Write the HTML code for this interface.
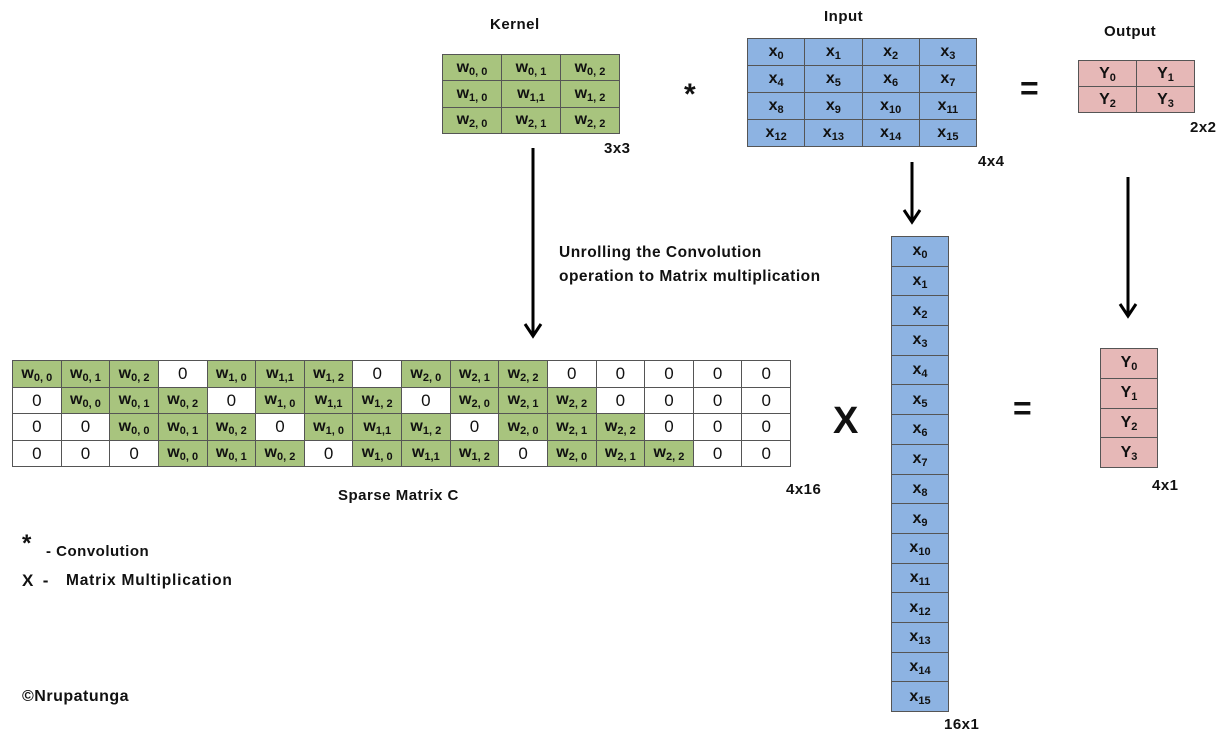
<!DOCTYPE html>
<html><head><meta charset="utf-8"><style>
body{margin:0;width:1232px;height:755px;background:#fff;position:relative;overflow:hidden;font-family:"Liberation Sans",sans-serif;font-weight:bold;color:#111}
.a{position:absolute;white-space:nowrap}
table{position:absolute;border-collapse:collapse;table-layout:fixed}
td{border:1.3px solid #555;text-align:center;padding:0;font-size:16px;line-height:1}
td sub{font-size:11px;vertical-align:-3px;line-height:0}
.g{background:#a8c47e}.b{background:#8db3e2}.p{background:#e6b8b7}.w{background:#fff;font-weight:normal;font-size:17px}
.lbl{font-size:15px;letter-spacing:0.5px}
</style></head><body>
<div class="a lbl" style="left:490px;top:16px">Kernel</div>
<table style="left:442px;top:54px;width:178px;height:80px">
<tr><td class="g">w<sub>0, 0</sub></td><td class="g">w<sub>0, 1</sub></td><td class="g">w<sub>0, 2</sub></td></tr>
<tr><td class="g">w<sub>1, 0</sub></td><td class="g">w<sub>1,1</sub></td><td class="g">w<sub>1, 2</sub></td></tr>
<tr><td class="g">w<sub>2, 0</sub></td><td class="g">w<sub>2, 1</sub></td><td class="g">w<sub>2, 2</sub></td></tr>
</table>
<div class="a lbl" style="left:604px;top:140px">3x3</div>
<div class="a" style="left:684px;top:78px;font-size:30px">*</div>
<div class="a lbl" style="left:824px;top:8px">Input</div>
<table style="left:747px;top:38px;width:230px;height:109px">
<tr><td class="b">x<sub>0</sub></td><td class="b">x<sub>1</sub></td><td class="b">x<sub>2</sub></td><td class="b">x<sub>3</sub></td></tr>
<tr><td class="b">x<sub>4</sub></td><td class="b">x<sub>5</sub></td><td class="b">x<sub>6</sub></td><td class="b">x<sub>7</sub></td></tr>
<tr><td class="b">x<sub>8</sub></td><td class="b">x<sub>9</sub></td><td class="b">x<sub>10</sub></td><td class="b">x<sub>11</sub></td></tr>
<tr><td class="b">x<sub>12</sub></td><td class="b">x<sub>13</sub></td><td class="b">x<sub>14</sub></td><td class="b">x<sub>15</sub></td></tr>
</table>
<div class="a lbl" style="left:978px;top:153px">4x4</div>
<div class="a" style="left:1020px;top:70px;font-size:32px">=</div>
<div class="a lbl" style="left:1104px;top:23px">Output</div>
<table style="left:1078px;top:60px;width:117px;height:53px">
<tr><td class="p">Y<sub>0</sub></td><td class="p">Y<sub>1</sub></td></tr>
<tr><td class="p">Y<sub>2</sub></td><td class="p">Y<sub>3</sub></td></tr>
</table>
<div class="a lbl" style="left:1190px;top:119px">2x2</div>

<svg class="a" style="left:0;top:0" width="1232" height="755">
<g stroke="#000" stroke-width="3" fill="none">
<line x1="533" y1="148" x2="533" y2="336"/><polyline points="525,324 533,336 541,324"/>
<line x1="912" y1="162" x2="912" y2="222"/><polyline points="904,210 912,222 920,210"/>
<line x1="1128" y1="177" x2="1128" y2="316"/><polyline points="1120,304 1128,316 1136,304"/>
</g></svg>
<div class="a lbl" style="left:559px;top:241px;line-height:24px;font-size:15.5px">Unrolling the Convolution<br>operation to Matrix multiplication</div>

<table style="left:12px;top:360px;width:779px;height:107px">
<tr><td class="g">w<sub>0, 0</sub></td><td class="g">w<sub>0, 1</sub></td><td class="g">w<sub>0, 2</sub></td><td class="w">0</td><td class="g">w<sub>1, 0</sub></td><td class="g">w<sub>1,1</sub></td><td class="g">w<sub>1, 2</sub></td><td class="w">0</td><td class="g">w<sub>2, 0</sub></td><td class="g">w<sub>2, 1</sub></td><td class="g">w<sub>2, 2</sub></td><td class="w">0</td><td class="w">0</td><td class="w">0</td><td class="w">0</td><td class="w">0</td></tr>
<tr><td class="w">0</td><td class="g">w<sub>0, 0</sub></td><td class="g">w<sub>0, 1</sub></td><td class="g">w<sub>0, 2</sub></td><td class="w">0</td><td class="g">w<sub>1, 0</sub></td><td class="g">w<sub>1,1</sub></td><td class="g">w<sub>1, 2</sub></td><td class="w">0</td><td class="g">w<sub>2, 0</sub></td><td class="g">w<sub>2, 1</sub></td><td class="g">w<sub>2, 2</sub></td><td class="w">0</td><td class="w">0</td><td class="w">0</td><td class="w">0</td></tr>
<tr><td class="w">0</td><td class="w">0</td><td class="g">w<sub>0, 0</sub></td><td class="g">w<sub>0, 1</sub></td><td class="g">w<sub>0, 2</sub></td><td class="w">0</td><td class="g">w<sub>1, 0</sub></td><td class="g">w<sub>1,1</sub></td><td class="g">w<sub>1, 2</sub></td><td class="w">0</td><td class="g">w<sub>2, 0</sub></td><td class="g">w<sub>2, 1</sub></td><td class="g">w<sub>2, 2</sub></td><td class="w">0</td><td class="w">0</td><td class="w">0</td></tr>
<tr><td class="w">0</td><td class="w">0</td><td class="w">0</td><td class="g">w<sub>0, 0</sub></td><td class="g">w<sub>0, 1</sub></td><td class="g">w<sub>0, 2</sub></td><td class="w">0</td><td class="g">w<sub>1, 0</sub></td><td class="g">w<sub>1,1</sub></td><td class="g">w<sub>1, 2</sub></td><td class="w">0</td><td class="g">w<sub>2, 0</sub></td><td class="g">w<sub>2, 1</sub></td><td class="g">w<sub>2, 2</sub></td><td class="w">0</td><td class="w">0</td></tr>
</table>
<div class="a lbl" style="left:338px;top:487px">Sparse Matrix C</div>
<div class="a lbl" style="left:786px;top:481px">4x16</div>

<div class="a" style="left:833px;top:400px;font-size:38px">X</div>
<table style="left:891px;top:236px;width:58px;height:476px">
<tr><td class="b">x<sub>0</sub></td></tr><tr><td class="b">x<sub>1</sub></td></tr><tr><td class="b">x<sub>2</sub></td></tr><tr><td class="b">x<sub>3</sub></td></tr>
<tr><td class="b">x<sub>4</sub></td></tr><tr><td class="b">x<sub>5</sub></td></tr><tr><td class="b">x<sub>6</sub></td></tr><tr><td class="b">x<sub>7</sub></td></tr>
<tr><td class="b">x<sub>8</sub></td></tr><tr><td class="b">x<sub>9</sub></td></tr><tr><td class="b">x<sub>10</sub></td></tr><tr><td class="b">x<sub>11</sub></td></tr>
<tr><td class="b">x<sub>12</sub></td></tr><tr><td class="b">x<sub>13</sub></td></tr><tr><td class="b">x<sub>14</sub></td></tr><tr><td class="b">x<sub>15</sub></td></tr>
</table>
<div class="a lbl" style="left:944px;top:716px">16x1</div>

<div class="a" style="left:1013px;top:390px;font-size:32px">=</div>
<table style="left:1100px;top:348px;width:58px;height:120px">
<tr><td class="p">Y<sub>0</sub></td></tr><tr><td class="p">Y<sub>1</sub></td></tr><tr><td class="p">Y<sub>2</sub></td></tr><tr><td class="p">Y<sub>3</sub></td></tr>
</table>
<div class="a lbl" style="left:1152px;top:477px">4x1</div>

<div class="a" style="left:22px;top:530px;font-size:24px">*</div>
<div class="a lbl" style="left:46px;top:543px">- Convolution</div>
<div class="a" style="left:22px;top:571px;font-size:17px">X&nbsp; -</div>
<div class="a lbl" style="left:66px;top:572px;font-size:15.5px;letter-spacing:0.8px">Matrix Multiplication</div>
<div class="a lbl" style="left:22px;top:688px;font-size:16px">©Nrupatunga</div>
</body></html>
